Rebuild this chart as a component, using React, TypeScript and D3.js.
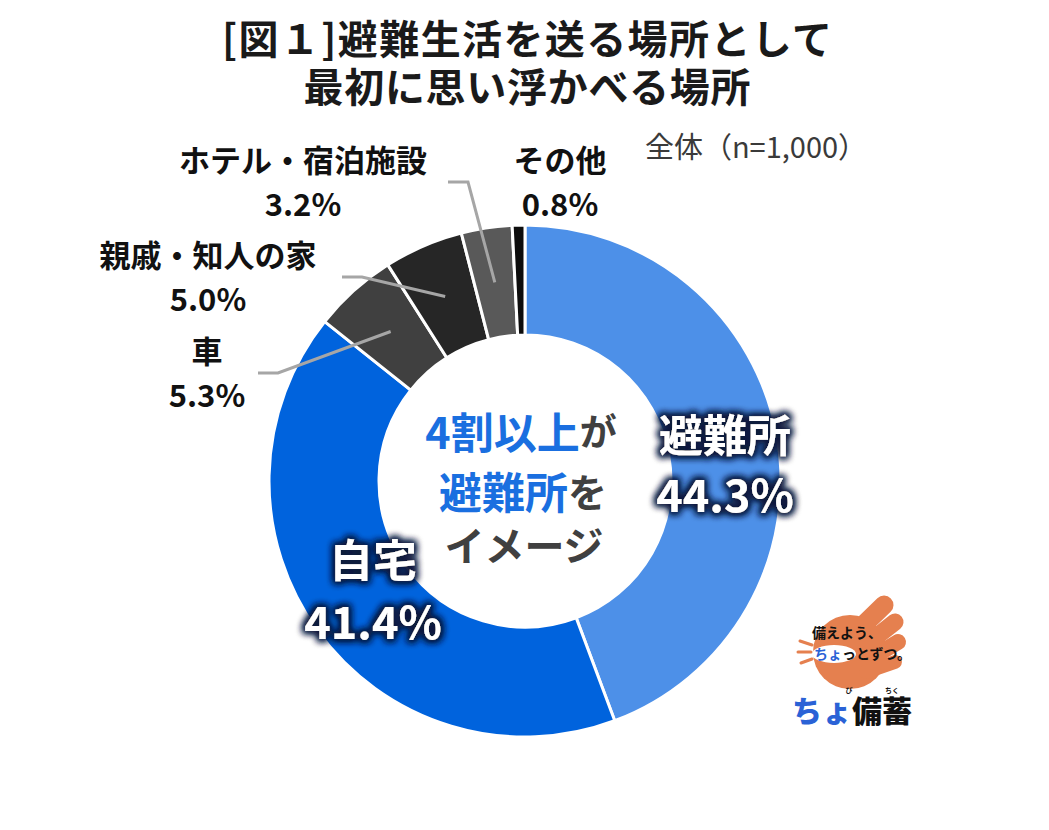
import React from "react";
import * as d3 from "d3";

// chart data
const categories = ["避難所", "自宅", "車", "親戚・知人の家", "ホテル・宿泊施設", "その他"];
const shares = [44.3, 41.4, 5.3, 5.0, 3.2, 0.8];
const sliceColors = ["#4d90e8", "#0063dd", "#404040", "#262626", "#595959", "#0d0d0d"];

const titleLines = ["[図１]避難生活を送る場所として", "最初に思い浮かべる場所"];
const sampleNote = "全体（n=1,000）";

const width = 1049;
const height = 830;
const cx = 525;
const cy = 481;
const outerR = 256;
const innerR = 146;

const FONT = "'Noto Sans CJK JP', 'Noto Sans', sans-serif";

// outside labels for the small slices: where the text sits and where the leader bends
const outsideLabels: Record<string, { x: number; y: number; elbow?: [number, number]; end?: [number, number] }> = {
  "車": { x: 207, y: 349, elbow: [278, 373], end: [258, 373] },
  "親戚・知人の家": { x: 208, y: 253, elbow: [362, 277], end: [342, 277] },
  "ホテル・宿泊施設": { x: 303, y: 158, elbow: [468, 182], end: [448, 182] },
  "その他": { x: 560, y: 158 },
};

const Logo: React.FC = () => {
  const orange = "#e5804f";
  return (
    <g>
      {/* palm */}
      <circle cx={850} cy={652} r={37} fill={orange} />
      {/* fingers */}
      <line x1={848} y1={640} x2={884} y2={605} stroke={orange} strokeWidth={19} strokeLinecap="round" />
      <line x1={862} y1={648} x2={895} y2={622} stroke={orange} strokeWidth={17} strokeLinecap="round" />
      <line x1={868} y1={660} x2={898} y2={642} stroke={orange} strokeWidth={16} strokeLinecap="round" />
      <line x1={866} y1={672} x2={895} y2={662} stroke={orange} strokeWidth={14} strokeLinecap="round" />
      {/* pinch gap */}
      <ellipse cx={834} cy={654} rx={22} ry={9} fill="#fff" />
      {/* motion dashes */}
      <line x1={800} y1={641} x2={812} y2={645} stroke={orange} strokeWidth={3} strokeLinecap="round" />
      <line x1={798} y1={652} x2={811} y2={652} stroke={orange} strokeWidth={3} strokeLinecap="round" />
      <line x1={801} y1={663} x2={812} y2={659} stroke={orange} strokeWidth={3} strokeLinecap="round" />
      <text x={812} y={638} fontFamily={FONT} fontWeight={700} fontSize={14} fill="#111">
        備えよう、
      </text>
      <text x={814} y={659} fontFamily={FONT} fontWeight={700} fontSize={14} fill="#111">
        <tspan fill="#2a62d6">ちょ</tspan>っとずつ。
      </text>
      <text x={792} y={722} fontFamily={FONT} fontWeight={900} fontSize={30} fill="#111">
        <tspan fill="#2a62d6">ちょ</tspan>備蓄
      </text>
      <text x={849} y={693} fontFamily={FONT} fontWeight={700} fontSize={7} fill="#111" textAnchor="middle">
        び
      </text>
      <text x={892} y={693} fontFamily={FONT} fontWeight={700} fontSize={7} fill="#111" textAnchor="middle">
        ちく
      </text>
    </g>
  );
};

const App: React.FC = () => {
  const data = categories.map((c, i) => ({ label: c, value: shares[i], color: sliceColors[i] }));

  const pie = d3
    .pie<{ label: string; value: number; color: string }>()
    .sort(null)
    .value((d) => d.value)
    .startAngle(0)
    .endAngle(2 * Math.PI);
  const arcs = pie(data);

  const arc = d3
    .arc<d3.PieArcDatum<{ label: string; value: number; color: string }>>()
    .innerRadius(innerR)
    .outerRadius(outerR);

  const pct = (v: number) => `${v.toFixed(1)}%`;
  const titleWidths = [610, 447];

  return (
    <svg
      width={width}
      height={height}
      style={{ position: "absolute", left: 0, top: 0, background: "#fff" }}
    >
      <defs>
        <filter id="glow" x="-20%" y="-30%" width="140%" height="160%">
          <feMorphology in="SourceAlpha" operator="dilate" radius="1.5" result="fat" />
          <feGaussianBlur in="fat" stdDeviation="3.5" result="blur" />
          <feFlood floodColor="#0b1b3d" />
          <feComposite in2="blur" operator="in" result="shadow" />
          <feMerge>
            <feMergeNode in="shadow" />
            <feMergeNode in="shadow" />
            <feMergeNode in="SourceGraphic" />
          </feMerge>
        </filter>
      </defs>

      {/* title */}
      {titleLines.map((t, i) => (
        <text
          key={t}
          x={527}
          y={54 + i * 48}
          textAnchor="middle"
          fontFamily={FONT}
          fontWeight={700}
          fontSize={40}
          fill="#1a1a1a"
          textLength={titleWidths[i]}
          lengthAdjust="spacing"
        >
          {t}
        </text>
      ))}
      <text x={756} y={158} textAnchor="middle" fontFamily={FONT} fontSize={29} fill="#3a3a3a">
        {sampleNote}
      </text>

      {/* donut */}
      <g transform={`translate(${cx},${cy})`}>
        {arcs.map((a) => (
          <path key={a.data.label} d={arc(a) ?? ""} fill={a.data.color} stroke="#fff" strokeWidth={3} />
        ))}
      </g>

      {/* leader lines + outside labels */}
      {arcs.map((a) => {
        const lab = outsideLabels[a.data.label];
        if (!lab) return null;
        const [px, py] = arc.centroid(a);
        return (
          <g key={a.data.label}>
            {lab.elbow && lab.end && (
              <polyline
                points={`${cx + px},${cy + py} ${lab.elbow[0]},${lab.elbow[1]} ${lab.end[0]},${lab.end[1]}`}
                fill="none"
                stroke="#a6a6a6"
                strokeWidth={3}
              />
            )}
            <text
              x={lab.x}
              y={lab.y}
              textAnchor="middle"
              dominantBaseline="central"
              fontFamily={FONT}
              fontWeight={700}
              fontSize={31}
              fill="#111"
            >
              {a.data.label}
            </text>
            <text
              x={lab.x}
              y={lab.y + 44}
              textAnchor="middle"
              dominantBaseline="central"
              fontFamily={FONT}
              fontWeight={700}
              fontSize={31}
              fill="#111"
            >
              {pct(a.data.value)}
            </text>
          </g>
        );
      })}

      {/* labels on the two big slices */}
      <g filter="url(#glow)" fontFamily={FONT} fontWeight={700} fill="#fff" textAnchor="middle">
        <text x={725} y={433} dominantBaseline="central" fontSize={44}>
          {categories[0]}
        </text>
        <text x={725} y={492} dominantBaseline="central" fontSize={45}>
          {pct(shares[0])}
        </text>
        <text x={373} y={558} dominantBaseline="central" fontSize={44}>
          {categories[1]}
        </text>
        <text x={373} y={619} dominantBaseline="central" fontSize={45}>
          {pct(shares[1])}
        </text>
      </g>

      {/* centre message */}
      <g fontFamily={FONT} fontWeight={700} textAnchor="middle">
        <text x={521} y={430} dominantBaseline="central" fontSize={43} fill="#1a6fe0">
          4割以上<tspan fill="#404040" fontSize={37}>が</tspan>
        </text>
        <text x={523} y={490} dominantBaseline="central" fontSize={43} fill="#1a6fe0">
          避難所<tspan fill="#404040" fontSize={39}>を</tspan>
        </text>
        <text x={524} y={544} dominantBaseline="central" fontSize={40} fill="#404040">
          イメージ
        </text>
      </g>

      <Logo />
    </svg>
  );
};

export default App;
